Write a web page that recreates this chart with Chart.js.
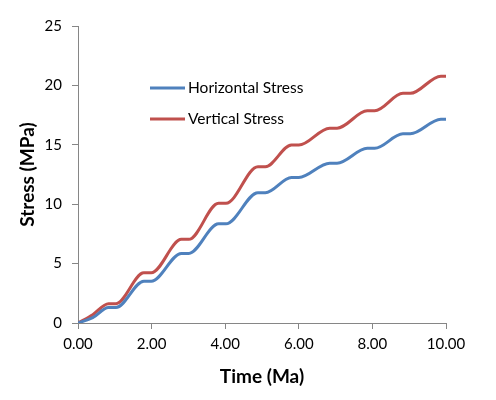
<!DOCTYPE html>
<html>
<head>
<meta charset="utf-8">
<script src="https://cdn.jsdelivr.net/npm/chart.js@4.4.1/dist/chart.umd.min.js"></script>
<style>
  html, body { margin: 0; padding: 0; background: #fff; }
  #wrap { width: 496px; height: 400px; }
</style>
</head>
<body>
<div id="wrap"><canvas id="stressChart"></canvas></div>
<script>
// Stress vs time
var timeMa =           [0, 0.40, 0.83, 1.03, 1.79, 1.99, 2.81, 3.01, 3.82, 4.02, 4.89, 5.09, 5.80, 6.00, 6.84, 7.04, 7.86, 8.06, 8.83, 9.03, 9.86, 10];
var horizontalStress = [0, 0.45, 1.30, 1.30, 3.52, 3.52, 5.86, 5.86, 8.35, 8.35, 10.97, 10.97, 12.25, 12.25, 13.45, 13.45, 14.70, 14.70, 15.92, 15.92, 17.15, 17.15];
var verticalStress =   [0, 0.70, 1.62, 1.62, 4.22, 4.22, 7.04, 7.04, 10.07, 10.07, 13.15, 13.15, 14.98, 14.98, 16.40, 16.40, 17.86, 17.86, 19.33, 19.33, 20.78, 20.78];
var seriesNames = ['Horizontal Stress', 'Vertical Stress'];
var seriesColors = ['#4F81BD', '#C0504D'];
var xTicks = [0, 2, 4, 6, 8, 10];

var axisColor = '#868686';
var fontFamily = 'Lato, "Open Sans", sans-serif';

function toPoints(xs, ys) {
    return xs.map(function(x, i) { return { x: x, y: ys[i] }; });
}

// legend drawn inside the plot area, like the original
var insideLegend = {
    id: 'insideLegend',
    afterDatasetsDraw: function(chart) {
        var ctx = chart.ctx;
        var rows = [88, 119];
        ctx.save();
        ctx.font = '15.5px ' + fontFamily;
        ctx.textBaseline = 'middle';
        ctx.textAlign = 'left';
        chart.data.datasets.forEach(function(ds, i) {
            ctx.strokeStyle = ds.borderColor;
            ctx.lineWidth = 3;
            ctx.beginPath();
            ctx.moveTo(150, rows[i]);
            ctx.lineTo(185, rows[i]);
            ctx.stroke();
            ctx.fillStyle = '#000';
            ctx.fillText(ds.label, 188, rows[i]);
        });
        ctx.restore();
    }
};

new Chart(document.getElementById('stressChart'), {
    type: 'line',
    data: {
        datasets: [
            { label: seriesNames[0], data: toPoints(timeMa, horizontalStress), borderColor: seriesColors[0] },
            { label: seriesNames[1], data: toPoints(timeMa, verticalStress), borderColor: seriesColors[1] }
        ]
    },
    options: {
        responsive: true,
        maintainAspectRatio: false,
        animation: false,
        layout: { padding: { left: 0, top: 26, right: 50, bottom: 0 } },
        elements: {
            point: { radius: 0 },
            line: { borderWidth: 3, cubicInterpolationMode: 'monotone', fill: false }
        },
        plugins: {
            legend: { display: false },
            tooltip: { enabled: false }
        },
        scales: {
            x: {
                type: 'linear',
                min: 0, max: 10,
                afterFit: function(scale) { scale.height = 77; },
                afterBuildTicks: function(scale) { scale.ticks = xTicks.map(function(v) { return { value: v }; }); },
                border: { color: axisColor, width: 1 },
                grid: { drawOnChartArea: false, color: axisColor, tickLength: 6 },
                ticks: {
                    color: '#000', padding: 6,
                    font: { family: fontFamily, size: 15 },
                    callback: function(v) { return v.toFixed(2); }
                },
                title: {
                    display: true, text: 'Time (Ma)', color: '#000',
                    font: { family: fontFamily, size: 19, weight: 'bold' },
                    padding: { top: 0, bottom: 12 }
                }
            },
            y: {
                min: 0, max: 25,
                afterFit: function(scale) { scale.width = 78; },
                border: { color: axisColor, width: 1 },
                grid: { drawOnChartArea: false, color: axisColor, tickLength: 6 },
                ticks: {
                    stepSize: 5, color: '#000', padding: 10,
                    font: { family: fontFamily, size: 15 }
                },
                title: {
                    display: true, text: 'Stress (MPa)', color: '#000',
                    font: { family: fontFamily, size: 19, weight: 'bold' },
                    padding: { top: 16, bottom: 0 }
                }
            }
        }
    },
    plugins: [insideLegend]
});
</script>
</body>
</html>
